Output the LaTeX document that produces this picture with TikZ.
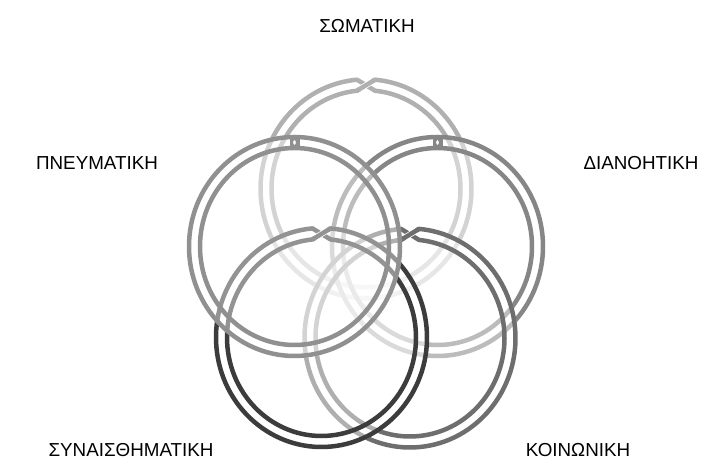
\documentclass[tikz,border=0pt]{standalone}
\usepackage{fontspec}
\setmainfont{Liberation Sans}
\definecolor{cA}{HTML}{B0B0B0}
\definecolor{cB}{HTML}{909090}
\definecolor{cC}{HTML}{868686}
\definecolor{cD}{HTML}{3C3C3C}
\definecolor{cE}{HTML}{6E6E6E}
\newcommand\ringbase[2]{%
  \fill[white, fill opacity=0.45] (#1,#2) ellipse [x radius=107.75, y radius=111.75];
}
\newcommand\bridgering[3]{%
  \ringbase{#1}{#2}
  \begin{scope}[shift={(#1,#2)}]
    \draw[#3, line width=4.5] (0,0) ellipse [x radius=105.5, y radius=109.5];
    \draw[#3, line width=4.5] (0,0) ellipse [x radius=94.5, y radius=98.5];
    \fill[#3] (-5,109.5) rectangle (5,98.5);
    \fill[white] (0,104) ellipse [x radius=1.3, y radius=2.3];
  \end{scope}
}
\newcommand\claspring[3]{%
  \ringbase{#1}{#2}
  \begin{scope}[shift={(#1,#2)}, line width=4.5, line join=round]
    \draw[#3] (94.9:105.5 and 109.5) arc[start angle=94.9, end angle=445.1, x radius=105.5, y radius=109.5]
      -- (95.5:94.5 and 98.5) arc[start angle=95.5, end angle=444.5, x radius=94.5, y radius=98.5]
      -- cycle;
    \draw[white, line width=6] ($(95.5:94.5 and 98.5)!0.15!(85.1:105.5 and 109.5)$) -- ($(95.5:94.5 and 98.5)!0.85!(85.1:105.5 and 109.5)$);
    \draw[#3] (95.5:94.5 and 98.5) -- (85.1:105.5 and 109.5);
  \end{scope}
}
\usetikzlibrary{calc}
\begin{document}
\begin{tikzpicture}[x=1pt, y=1pt,
  lbl/.style={font=\fontsize{18.8}{21}\selectfont, text=black, inner sep=0pt}]
\useasboundingbox (0,0) rectangle (716,465);
% rings, bottom to top
\claspring{366}{276.2}{cA}
\bridgering{437.5}{218.5}{cC}
\claspring{410}{127}{cE}
\claspring{321.5}{127.5}{cD}
\bridgering{294.5}{218.5}{cB}
% labels
\node[lbl] (somatiki) at (367,439) {ΣΩΜΑΤΙΚΗ};
\node[lbl] (pnevmatiki) at (97,302) {ΠΝΕΥΜΑΤΙΚΗ};
\node[lbl] (dianoitiki) at (641,302) {ΔΙΑΝΟΗΤΙΚΗ};
\node[lbl] (synaisth) at (131,15) {ΣΥΝΑΙΣΘΗΜΑΤΙΚΗ};
\node[lbl] (koinoniki) at (578,15) {ΚΟΙΝΩΝΙΚΗ};
\end{tikzpicture}
\end{document}
